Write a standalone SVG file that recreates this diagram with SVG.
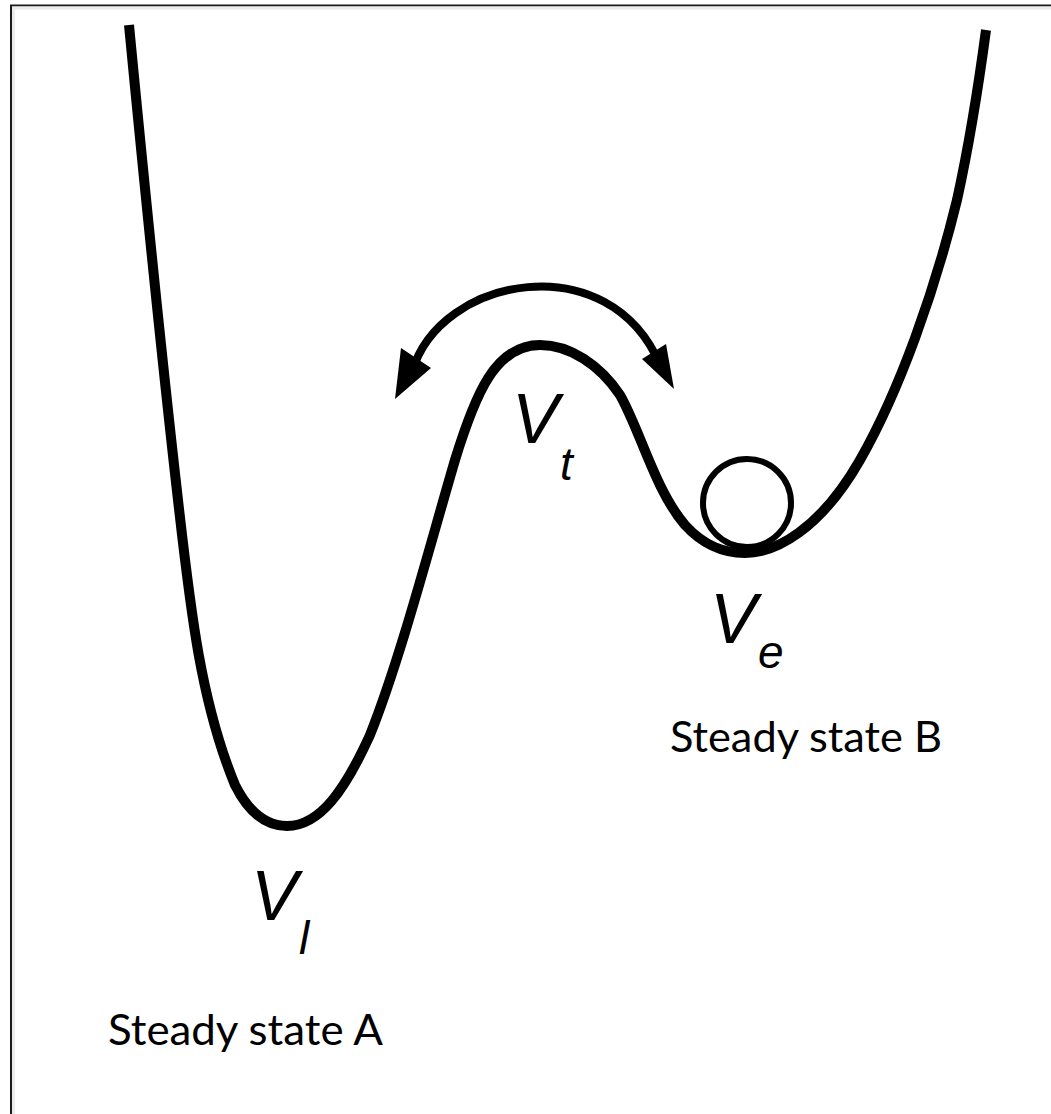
<svg xmlns="http://www.w3.org/2000/svg" width="1051" height="1114" viewBox="0 0 1051 1114">
<style>
.curve{fill:none;stroke:#000;stroke-width:10;stroke-linejoin:round;stroke-linecap:butt}
.arc{fill:none;stroke:#000;stroke-width:8}
.head{fill:#000}
.sym{font-family:"Liberation Sans",sans-serif;font-style:italic;fill:#000;font-size:70px}
.sub{font-family:"Liberation Sans",sans-serif;font-style:italic;fill:#000;font-size:46px}
.cap{font-family:Lato,"Liberation Sans",sans-serif;font-size:42px;fill:#000}
</style>
<rect width="1051" height="1114" fill="#fff"/>
<g id="frame">
<path d="M11 1114 V5.5 H1051" fill="none" stroke="#1a1a1a" stroke-width="2"/>
<path d="M13.5 1114 V8 H1051" fill="none" stroke="#ececec" stroke-width="3"/>
</g>
<g id="potential">
<path class="curve" d="M129 25 C142 160 162 360 178 500 C190 605 200 700 235 785 C250 815 268 826 287 826 C320 826 345 790 370 735 C400 660 430 545 455 460 C475 395 495 345 540 345 C570 345 600 365 620 395 C640 430 655 490 685 525 C705 547 725 553 745 553 C775 553 820 530 860 460 C900 390 935 290 957 200 C968 150 978 90 986 30"/>
</g>
<g id="ball">
<circle cx="747" cy="503" r="44" fill="none" stroke="#000" stroke-width="6"/>
</g>
<g id="connectors">
<path class="arc" d="M412 372 C440 275 610 245 660 365"/>
<polygon class="head" points="395,399 401,348 431,368"/>
<polygon class="head" points="674,389 642,359 666,344"/>
</g>
<g id="label-vt"><text class="sym" x="512" y="443">V</text><text class="sub" x="560" y="480">t</text></g>
<g id="label-ve"><text class="sym" x="710" y="643">V</text><text class="sub" x="758" y="668">e</text></g>
<g id="label-vl"><text class="sym" x="251" y="920">V</text><text class="sub" x="299" y="954">l</text></g>
<g id="label-b"><text class="cap" x="670" y="752" textLength="272" lengthAdjust="spacingAndGlyphs">Steady state B</text></g>
<g id="label-a"><text class="cap" x="108" y="1045" textLength="275" lengthAdjust="spacingAndGlyphs">Steady state A</text></g>
</svg>
